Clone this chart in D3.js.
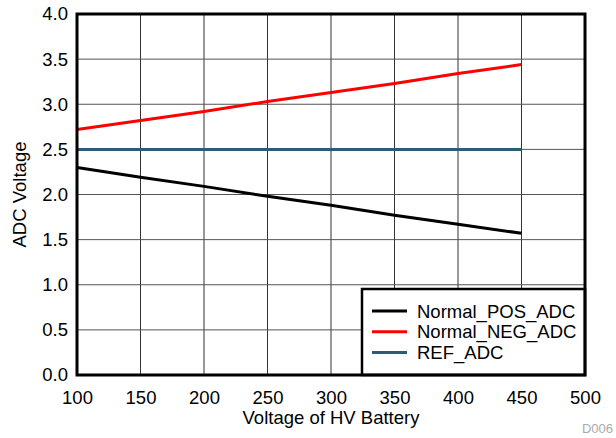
<!DOCTYPE html>
<html><head><meta charset="utf-8">
<script src="https://cdn.jsdelivr.net/npm/d3@7"></script>
<style>body{margin:0;background:#fff}svg{display:block;font-family:"Liberation Sans",Arial,sans-serif}</style>
</head><body><svg id="c" width="616" height="438"></svg>
<script>
const xVals = [100,150,200,250,300,350,400,450];
const posAdc = [2.30,2.19,2.09,1.98,1.88,1.77,1.67,1.57];
const negAdc = [2.72,2.82,2.92,3.03,3.13,3.23,3.34,3.44];
const refAdc = [2.5,2.5,2.5,2.5,2.5,2.5,2.5,2.5];
const seriesNames = ["Normal_POS_ADC","Normal_NEG_ADC","REF_ADC"];
const seriesColors = ["#000000","#ff0000","#2b5d78"];
const xTicks = [100,150,200,250,300,350,400,450,500];
const yTicks = [0,0.5,1,1.5,2,2.5,3,3.5,4];

const FS = 18.5;
const svg = d3.select("#c");
const L=77,R=585,T=14,B=375;
const x = d3.scaleLinear().domain([100,500]).range([L,R]);
const y = d3.scaleLinear().domain([0,4]).range([B,T]);

// grid
svg.append("g").selectAll("line").data(xTicks).join("line")
  .attr("x1",d=>x(d)).attr("x2",d=>x(d)).attr("y1",T).attr("y2",B)
  .attr("stroke","#333").attr("stroke-width",1);
svg.append("g").selectAll("line").data(yTicks).join("line")
  .attr("x1",L).attr("x2",R).attr("y1",d=>y(d)).attr("y2",d=>y(d))
  .attr("stroke","#555").attr("stroke-width",1);

// axes labels
const xa = svg.append("g").attr("transform",`translate(0,${B})`)
  .call(d3.axisBottom(x).tickValues(xTicks).tickSize(0).tickPadding(16).tickFormat(d3.format("d")));
xa.select(".domain").remove();
xa.selectAll("text").attr("font-size",FS).attr("fill","#000").attr("font-family","Liberation Sans, Arial, sans-serif");
const ya = svg.append("g").attr("transform",`translate(${L},0)`)
  .call(d3.axisLeft(y).tickValues(yTicks).tickSize(0).tickPadding(9).tickFormat(d3.format(".1f")));
ya.select(".domain").remove();
ya.selectAll("text").attr("font-size",FS).attr("fill","#000").attr("font-family","Liberation Sans, Arial, sans-serif");

// lines
const allSeries = [posAdc,negAdc,refAdc];
const line = d3.line().x((d,i)=>x(xVals[i])).y(d=>y(d));
allSeries.forEach((s,k)=>{
  svg.append("path").datum(s).attr("d",line).attr("fill","none")
    .attr("stroke",seriesColors[k]).attr("stroke-width",3);
});

// legend
const lg = svg.append("g");
lg.append("rect").attr("x",362).attr("y",289).attr("width",R-362).attr("height",B-289)
  .attr("fill","#fff").attr("stroke","#000").attr("stroke-width",2.5);
seriesNames.forEach((n,i)=>{
  const yy = 311 + i*20.8;
  lg.append("line").attr("x1",372).attr("x2",407).attr("y1",yy).attr("y2",yy)
    .attr("stroke",seriesColors[i]).attr("stroke-width",3);
  lg.append("text").attr("x",417).attr("y",yy+6.5).attr("font-size",FS).text(n);
});

// frame
svg.append("rect").attr("x",L).attr("y",T).attr("width",R-L).attr("height",B-T)
  .attr("fill","none").attr("stroke","#000").attr("stroke-width",3);

// titles
svg.append("text").attr("x",(L+R)/2).attr("y",424).attr("text-anchor","middle").attr("font-size",FS).text("Voltage of HV Battery");
svg.append("text").attr("transform",`translate(26,${(T+B)/2}) rotate(-90)`).attr("text-anchor","middle").attr("font-size",FS).text("ADC Voltage");
svg.append("text").attr("x",613).attr("y",433).attr("text-anchor","end").attr("font-size",13).attr("fill","#aaa").text("D006");
</script></body></html>
